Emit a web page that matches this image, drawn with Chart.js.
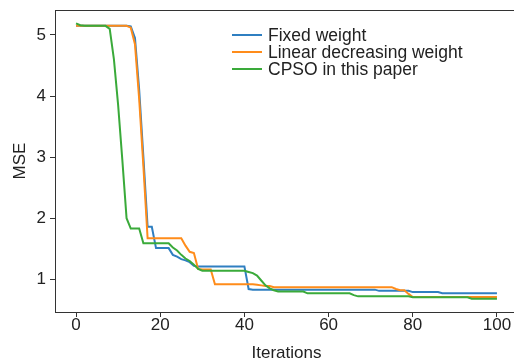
<!DOCTYPE html>
<html>
<head>
<meta charset="utf-8">
<script src="https://cdn.jsdelivr.net/npm/chart.js@4.4.0/dist/chart.umd.min.js"></script>
<style>
  html, body { margin: 0; padding: 0; background: #fff; overflow: hidden; }
  #wrap { position: absolute; left: 0; top: 0; width: 518px; height: 362px; }
</style>
</head>
<body>
<div id="wrap"><canvas id="mse"></canvas></div>
<script>
// x categories: iteration number
const iterations = Array.from({ length: 101 }, (_, i) => i);

const seriesNames = ['Fixed weight', 'Linear decreasing weight', 'CPSO in this paper'];
const seriesColors = ['#2f7fc1', '#ff8c1a', '#3aaa3a'];

// values, one per iteration 0..100
const fixedWeight = [
  5.15, 5.15, 5.15, 5.15, 5.15, 5.15, 5.15, 5.15, 5.15, 5.15, 5.15, 5.15, 5.15,
  5.14, 4.95, 4.1, 3.0, 1.86, 1.86,
  1.51, 1.51, 1.51, 1.51,
  1.40, 1.37, 1.33, 1.31, 1.28, 1.22,
  1.21, 1.21, 1.21, 1.21, 1.21, 1.21, 1.21, 1.21, 1.21, 1.21, 1.21, 1.21,
  0.84,
  0.83, 0.83, 0.83, 0.83, 0.83, 0.83, 0.83, 0.83, 0.83, 0.83,
  0.83, 0.83, 0.83, 0.83, 0.83, 0.83, 0.83, 0.83, 0.83, 0.83,
  0.83, 0.83, 0.83, 0.83, 0.83, 0.83, 0.83, 0.83, 0.83, 0.83,
  0.81, 0.81, 0.81, 0.81, 0.81, 0.81, 0.81, 0.81,
  0.79, 0.79, 0.79, 0.79, 0.79, 0.79, 0.79,
  0.77, 0.77, 0.77, 0.77, 0.77, 0.77, 0.77, 0.77, 0.77, 0.77, 0.77, 0.77, 0.77, 0.77
];

const linearWeight = [
  5.15, 5.15, 5.15, 5.15, 5.15, 5.15, 5.15, 5.15, 5.15, 5.15, 5.15, 5.15, 5.15,
  5.12, 4.85, 3.95, 2.85,
  1.67, 1.67, 1.67, 1.67, 1.67, 1.67, 1.67, 1.67, 1.67,
  1.55, 1.45, 1.43,
  1.17, 1.16, 1.16, 1.16,
  0.92, 0.92, 0.92, 0.92, 0.92, 0.92, 0.92, 0.92, 0.92, 0.92,
  0.91, 0.90, 0.89, 0.89,
  0.87, 0.87, 0.87, 0.87, 0.87, 0.87, 0.87, 0.87, 0.87, 0.87,
  0.87, 0.87, 0.87, 0.87, 0.87, 0.87, 0.87, 0.87, 0.87, 0.87,
  0.87, 0.87, 0.87, 0.87, 0.87, 0.87, 0.87, 0.87, 0.87,
  0.84, 0.82, 0.82, 0.76,
  0.71, 0.71, 0.71, 0.71, 0.71, 0.71, 0.71, 0.71, 0.71, 0.71, 0.71,
  0.71, 0.71, 0.71, 0.71, 0.71, 0.71, 0.71, 0.71, 0.71, 0.71
];

const cpso = [
  5.19, 5.16,
  5.15, 5.15, 5.15, 5.15, 5.15, 5.15,
  5.10,
  4.6, 3.85, 2.95, 2.0,
  1.83, 1.83, 1.83,
  1.59, 1.59, 1.59, 1.59, 1.59, 1.59, 1.59,
  1.52, 1.47, 1.40, 1.34, 1.30, 1.24, 1.17,
  1.14, 1.14, 1.14, 1.14, 1.14, 1.14, 1.14, 1.14, 1.14, 1.14, 1.14,
  1.12, 1.10, 1.06, 0.98, 0.90, 0.85, 0.82,
  0.80, 0.80, 0.80, 0.80, 0.80, 0.80, 0.80,
  0.77, 0.77, 0.77, 0.77, 0.77, 0.77, 0.77, 0.77, 0.77, 0.77, 0.77,
  0.74,
  0.72, 0.72, 0.72, 0.72, 0.72, 0.72, 0.72, 0.72, 0.72, 0.72, 0.72, 0.72, 0.72,
  0.705, 0.705, 0.705, 0.705, 0.705, 0.705, 0.705,
  0.705, 0.705, 0.705, 0.705, 0.705, 0.705, 0.705,
  0.68, 0.68, 0.68, 0.68, 0.68, 0.68, 0.68
];

const xTicks = [0, 20, 40, 60, 80, 100];
const yTicks = [1, 2, 3, 4, 5];

const txtColor = '#222';
const axisColor = '#333';
const fontFamily = "'Liberation Sans', Arial, sans-serif";
const font = { family: fontFamily, size: 17 };

function toPoints(values) {
  return iterations.map((x, i) => ({ x: x, y: values[i] }));
}

// top spine of the axes box
const topSpine = {
  id: 'topSpine',
  afterDraw(chart) {
    const { ctx, chartArea } = chart;
    ctx.save();
    ctx.strokeStyle = axisColor;
    ctx.lineWidth = 1;
    ctx.beginPath();
    ctx.moveTo(chartArea.left, chartArea.top + 0.5);
    ctx.lineTo(chartArea.right, chartArea.top + 0.5);
    ctx.stroke();
    ctx.restore();
  }
};

// matplotlib style legend, no frame, upper right
const lineLegend = {
  id: 'lineLegend',
  afterDraw(chart) {
    const ctx = chart.ctx;
    ctx.save();
    ctx.font = '17.5px ' + fontFamily;
    ctx.textBaseline = 'middle';
    ctx.fillStyle = txtColor;
    chart.data.datasets.forEach((ds, i) => {
      const y = 35 + i * 17;
      ctx.strokeStyle = ds.borderColor;
      ctx.lineWidth = 2;
      ctx.beginPath();
      ctx.moveTo(232, y);
      ctx.lineTo(262, y);
      ctx.stroke();
      ctx.fillText(ds.label, 268, y + 1);
    });
    ctx.restore();
  }
};

const datasets = [fixedWeight, linearWeight, cpso].map((vals, i) => ({
  label: seriesNames[i],
  data: toPoints(vals),
  borderColor: seriesColors[i],
  backgroundColor: seriesColors[i],
  borderWidth: 2,
  pointRadius: 0,
  tension: 0,
  fill: false,
  order: 2 - i
}));

new Chart(document.getElementById('mse'), {
  type: 'line',
  data: { datasets: datasets },
  plugins: [topSpine, lineLegend],
  options: {
    responsive: true,
    maintainAspectRatio: false,
    animation: false,
    devicePixelRatio: 1,
    layout: { padding: { top: 10, left: 0, right: 0, bottom: 0 } },
    plugins: {
      legend: { display: false },
      tooltip: { enabled: false }
    },
    scales: {
      x: {
        type: 'linear',
        min: -5,
        max: 105,
        afterBuildTicks: s => { s.ticks = xTicks.map(v => ({ value: v })); },
        afterFit: s => { s.height = 50; s.paddingLeft = 0; s.paddingRight = 0; },
        grid: { display: true, drawOnChartArea: false, tickLength: 5, color: axisColor },
        border: { display: true, color: axisColor, width: 1 },
        ticks: { font: font, color: txtColor, padding: -2, maxRotation: 0, autoSkip: false },
        title: { display: true, text: 'Iterations', font: { family: fontFamily, size: 17, lineHeight: 1 }, color: txtColor, padding: { top: 0, bottom: 0 } }
      },
      y: {
        type: 'linear',
        min: 0.464,
        max: 5.409,
        afterBuildTicks: s => { s.ticks = yTicks.map(v => ({ value: v })); },
        afterFit: s => { s.width = 55; s.paddingTop = 0; s.paddingBottom = 0; },
        grid: { display: true, drawOnChartArea: false, tickLength: 5, color: axisColor },
        border: { display: true, color: axisColor, width: 1 },
        ticks: { font: font, color: txtColor, padding: 4 },
        title: { display: true, text: 'MSE', font: font, color: txtColor, padding: { top: 10, bottom: 0 } }
      }
    }
  }
});
</script>
</body>
</html>
